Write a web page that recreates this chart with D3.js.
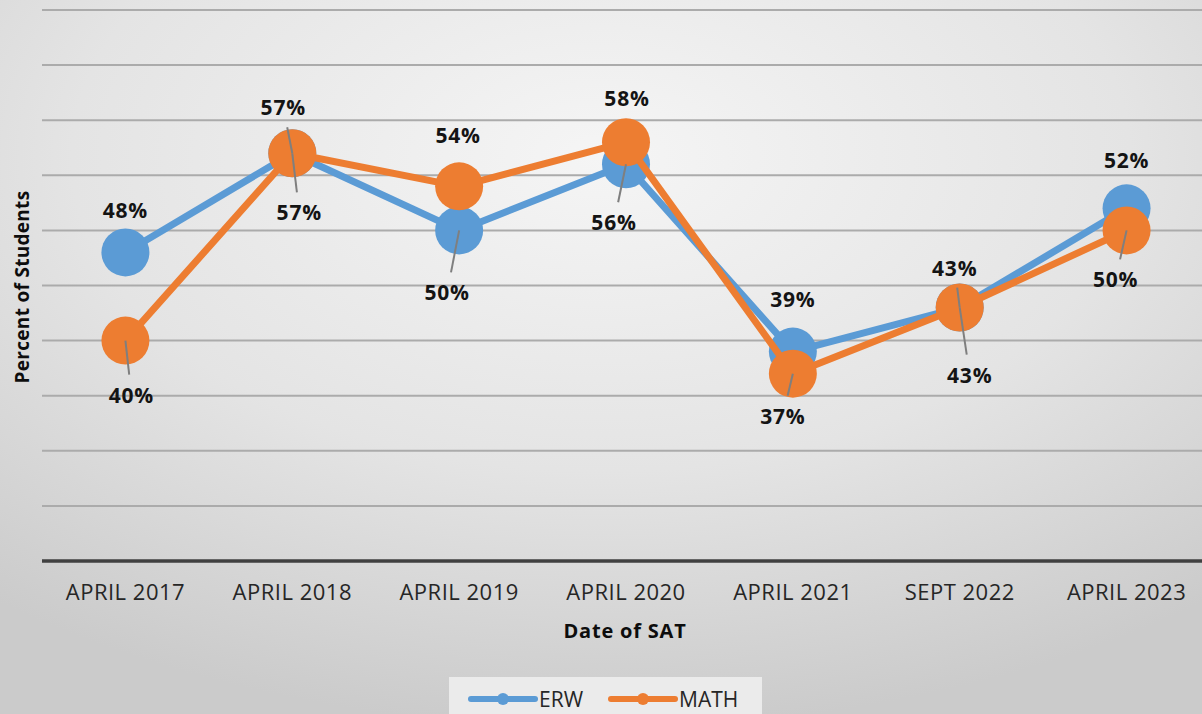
<html>
<head>
<script src="https://d3js.org/d3.v7.min.js"></script>
<style>
  body { margin: 0; overflow: hidden; }
</style>
</head>
<body>
<div id="cont"></div>
<script>
  // data
  var categories = ["APRIL 2017", "APRIL 2018", "APRIL 2019", "APRIL 2020", "APRIL 2021", "SEPT 2022", "APRIL 2023"];
  var erw = [48, 57, 50, 56, 39, 43, 52];
  var math = [40, 57, 54, 58, 37, 43, 50];
  var yTicks = [20, 25, 30, 35, 40, 45, 50, 55, 60, 65, 70];

  // where each data label was dragged to (dx, dy from its point) and whether it has a leader line
  var erwLabelOffset = [[0, -42], [7, 59], [-12, 62], [-12, 58], [0, -53], [-5, -40], [0, -48]];
  var erwLeader = [0, 1, 1, 1, 0, 1, 0];
  var mathLabelOffset = [[6, 54], [-9, -46], [-1, -51], [1, -44], [-10, 42], [10, 67], [-11, 49]];
  var mathLeader = [1, 1, 0, 0, 1, 1, 1];

  var W = 1202, H = 714;
  var plotLeft = 42, plotRight = 1210, plotTop = 10, plotBottom = 561;

  var svg = d3.select("#cont").append("svg")
      .attr("width", W)
      .attr("height", H);

  var defs = svg.append("defs");
  var grad = defs.append("radialGradient")
      .attr("id", "bg")
      .attr("cx", "50%").attr("cy", "22%").attr("r", "80%");
  grad.append("stop").attr("offset", "0%").attr("stop-color", "#f5f5f5");
  grad.append("stop").attr("offset", "55%").attr("stop-color", "#e4e4e4");
  grad.append("stop").attr("offset", "100%").attr("stop-color", "#cbcbcb");

  svg.append("rect")
      .attr("width", W).attr("height", H)
      .attr("fill", "url(#bg)");

  var x = d3.scaleBand().domain(categories).range([plotLeft, plotRight]).paddingInner(0).paddingOuter(0);
  var y = d3.scaleLinear().domain([20, 70]).range([plotBottom, plotTop]);
  var cx = function (c) { return x(c) + x.bandwidth() / 2; };

  // gridlines
  svg.append("g").selectAll("line")
      .data(yTicks.filter(function (t) { return t > 20; }))
      .enter().append("line")
      .attr("x1", plotLeft).attr("x2", W)
      .attr("y1", function (d) { return y(d); })
      .attr("y2", function (d) { return y(d); })
      .attr("stroke", "#ababab")
      .attr("stroke-width", 2);

  // x axis
  svg.append("line")
      .attr("x1", plotLeft).attr("x2", W)
      .attr("y1", y(20)).attr("y2", y(20))
      .attr("stroke", "#404040")
      .attr("stroke-width", 3.5);

  var xAxis = svg.append("g")
      .attr("transform", "translate(0," + y(20) + ")")
      .call(d3.axisBottom(x).tickSize(0).tickPadding(23));
  xAxis.select(".domain").remove();
  xAxis.selectAll("text")
      .attr("font-family", "'Open Sans', sans-serif")
      .attr("font-size", 22)
      .attr("letter-spacing", 0.5)
      .attr("fill", "#262626");

  // axis titles
  svg.append("text")
      .attr("x", 625).attr("y", 638)
      .attr("text-anchor", "middle")
      .attr("font-family", "'Open Sans', sans-serif")
      .attr("font-weight", "bold")
      .attr("font-size", 20)
      .attr("letter-spacing", 0.8)
      .attr("fill", "#0d0d0d")
      .text("Date of SAT");

  svg.append("text")
      .attr("transform", "translate(29,287) rotate(-90)")
      .attr("text-anchor", "middle")
      .attr("font-family", "'Open Sans', sans-serif")
      .attr("font-weight", "bold")
      .attr("font-size", 19)
      .attr("letter-spacing", 0.3)
      .attr("fill", "#0d0d0d")
      .text("Percent of Students");

  var series = [
      { name: "ERW", values: erw, color: "#5b9bd5", offsets: erwLabelOffset, leader: erwLeader },
      { name: "MATH", values: math, color: "#ed7d31", offsets: mathLabelOffset, leader: mathLeader }
  ];

  var line = d3.line()
      .x(function (d, i) { return cx(categories[i]); })
      .y(function (d) { return y(d); });

  series.forEach(function (s) {
      svg.append("path")
          .attr("d", line(s.values))
          .attr("fill", "none")
          .attr("stroke", s.color)
          .attr("stroke-width", 7)
          .attr("stroke-linejoin", "round");

      svg.append("g").selectAll("circle")
          .data(s.values)
          .enter().append("circle")
          .attr("cx", function (d, i) { return cx(categories[i]); })
          .attr("cy", function (d) { return y(d); })
          .attr("r", 24)
          .attr("fill", s.color);
  });

  // leader lines and data labels
  series.forEach(function (s) {
      var g = svg.append("g");
      s.values.forEach(function (v, i) {
          var px = cx(categories[i]), py = y(v);
          var lx = px + s.offsets[i][0], ly = py + s.offsets[i][1];
          if (s.leader[i]) {
              var dy = ly - py;
              var t = (Math.abs(dy) - 20) / Math.abs(dy);
              g.append("line")
                  .attr("x1", px).attr("y1", py)
                  .attr("x2", px + (lx - px) * t).attr("y2", py + dy * t)
                  .attr("stroke", "#7f7f7f")
                  .attr("stroke-width", 2);
          }
          g.append("text")
              .attr("x", lx).attr("y", ly)
              .attr("text-anchor", "middle")
              .attr("dominant-baseline", "central")
              .attr("font-family", "'Open Sans', sans-serif")
              .attr("font-weight", "bold")
              .attr("font-size", 21)
              .attr("letter-spacing", 0.8)
              .attr("fill", "#141414")
              .text(v + "%");
      });
  });

  // legend
  var lg = svg.append("g");
  lg.append("rect")
      .attr("x", 449).attr("y", 677)
      .attr("width", 313).attr("height", 40)
      .attr("fill", "#ebebeb");
  var legendX = [471, 611];
  series.forEach(function (s, i) {
      var lx = legendX[i];
      lg.append("line")
          .attr("x1", lx).attr("x2", lx + 64)
          .attr("y1", 699).attr("y2", 699)
          .attr("stroke", s.color)
          .attr("stroke-width", 6)
          .attr("stroke-linecap", "round");
      lg.append("circle")
          .attr("cx", lx + 32).attr("cy", 699)
          .attr("r", 6)
          .attr("fill", s.color);
      lg.append("text")
          .attr("x", lx + 68).attr("y", 699)
          .attr("dominant-baseline", "central")
          .attr("font-family", "'Open Sans', sans-serif")
          .attr("font-size", 21)
          .attr("fill", "#262626")
          .text(s.name);
  });
</script>
</body>
</html>
